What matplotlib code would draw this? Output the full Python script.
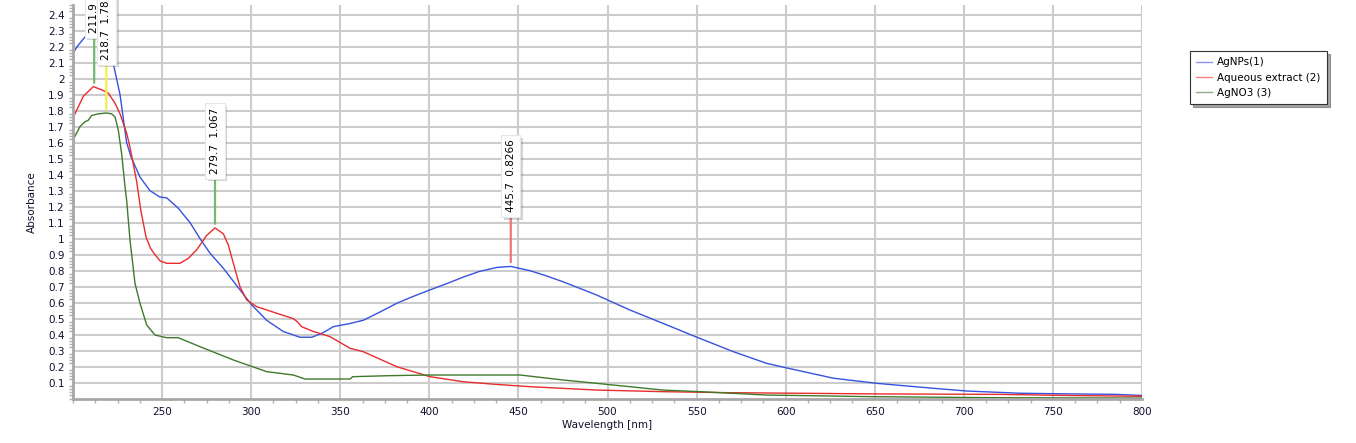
import numpy as np
import matplotlib
matplotlib.use("Agg")
import matplotlib.pyplot as plt
from matplotlib.ticker import MultipleLocator, FormatStrFormatter
import matplotlib.patheffects as pe

# AgNPs(1)
wl_agnp = [200, 203, 206.7, 210, 214, 218, 222.5, 226.4, 230.1, 232.6, 237.6, 243.2, 248.8,
           252.6, 259.1, 265.7, 271.3, 276.9, 284.4, 293.7, 300.3, 308.7, 318, 327.4, 334,
           340, 346.1, 355.5, 362.9, 372, 381.7, 390, 400.4, 410, 419.1, 428, 437.8, 445.7,
           456.5, 465, 475.2, 493.9, 512.6, 531.3, 550, 570.6, 589.3, 601.5, 626.8, 651.1,
           682.9, 701.6, 731.5, 760, 785.8, 800]
abs_agnp = [2.16, 2.21, 2.26, 2.29, 2.30, 2.26, 2.10, 1.90, 1.60, 1.51, 1.385, 1.30, 1.26,
            1.255, 1.19, 1.10, 1.00, 0.909, 0.815, 0.68, 0.586, 0.49, 0.42, 0.384, 0.384,
            0.41, 0.45, 0.47, 0.49, 0.54, 0.596, 0.635, 0.68, 0.72, 0.76, 0.795, 0.82, 0.8266,
            0.80, 0.77, 0.73, 0.648, 0.554, 0.47, 0.385, 0.294, 0.221, 0.19, 0.128, 0.096,
            0.065, 0.048, 0.034, 0.03, 0.027, 0.02]

# Aqueous extract (2)
wl_aq = [200, 201.1, 205.8, 211.4, 216.1, 219.8, 223.6, 226.4, 230.1, 232, 235.7, 238,
         241, 243.5, 246, 249, 252.6, 260, 264.7, 269.4, 275, 279.7, 284.4, 287.2, 290,
         293.7, 297.5, 303.1, 314.3, 323.7, 326, 328.3, 334.9, 344.2, 355.5, 362.9, 381.7,
         400.4, 419, 437, 456.5, 494, 531, 568.7, 608, 650, 720, 760, 800]
abs_aq = [1.76, 1.78, 1.89, 1.95, 1.93, 1.91, 1.846, 1.78, 1.66, 1.57, 1.36, 1.18,
          1.01, 0.94, 0.90, 0.86, 0.846, 0.846, 0.877, 0.93, 1.02, 1.067, 1.03, 0.96, 0.846,
          0.70, 0.617, 0.575, 0.534, 0.50, 0.48, 0.45, 0.42, 0.388, 0.315, 0.294, 0.20,
          0.1375, 0.106, 0.09, 0.075, 0.054, 0.044, 0.0375, 0.034, 0.03, 0.027, 0.02, 0.015]

# AgNO3 (3)
wl_no3 = [200, 201.1, 203.9, 206.7, 208.6, 210.5, 214.2, 218.9, 221.7, 223.6, 225.4, 227.3,
          229.2, 230.1, 232, 234.8, 237.6, 241.4, 246, 252.6, 259.1, 271.3, 290, 308.7,
          323.7, 330.2, 355.5, 357, 378, 400.4, 451, 475, 494, 531, 551.9, 589, 649, 720, 800]
abs_no3 = [1.62, 1.64, 1.70, 1.73, 1.74, 1.77, 1.78, 1.785, 1.78, 1.76, 1.68, 1.53,
           1.325, 1.24, 0.99, 0.72, 0.596, 0.46, 0.398, 0.381, 0.381, 0.325, 0.242, 0.169,
           0.148, 0.123, 0.123, 0.1375, 0.144, 0.148, 0.148, 0.117, 0.096, 0.054, 0.044,
           0.023, 0.0125, 0.006, 0.004]

# peak markers
peak_wl = [211.9, 218.7, 279.7, 445.7]
peak_abs = [1.948, 1.78, 1.067, 0.8266]
peak_txt = ["211.9  1.948", "218.7  1.78", "279.7  1.067", "445.7  0.8266"]
peak_col = ["#74b874", "#f2f04a", "#74b874", "#f07474"]

fig = plt.figure(figsize=(13.56, 4.43), dpi=100)
ax = fig.add_axes([73/1356, 1-398.7/443, (1142-73)/1356, (398.7-5)/443])

ax.plot(wl_agnp, abs_agnp, color="#3652e0", lw=1.0, label="AgNPs(1)")
ax.plot(wl_aq, abs_aq, color="#e82c2c", lw=1.0, label="Aqueous extract (2)")
ax.plot(wl_no3, abs_no3, color="#3e7a2c", lw=1.0, label="AgNO3 (3)")

for x, y, t, c in zip(peak_wl, peak_abs, peak_txt, peak_col):
    ann = ax.annotate(t, xy=(x, y), xytext=(0, 54), textcoords="offset pixels",
                      rotation=90, ha="center", va="bottom", fontsize=7.5,
                      annotation_clip=False,
                      bbox=dict(boxstyle="square,pad=0.45", fc="white", ec="#e6e6e6", lw=0.8),
                      arrowprops=dict(arrowstyle="-", color=c, lw=1.6, shrinkA=0, shrinkB=3))
    ann.get_bbox_patch().set_path_effects(
        [pe.SimplePatchShadow(offset=(2, -2), alpha=0.25), pe.Normal()])

ax.set_xlim(200, 800)
ax.set_ylim(0, 2.46)
ax.xaxis.set_minor_locator(MultipleLocator(12.5))
ax.yaxis.set_minor_locator(MultipleLocator(0.02))
xt = np.arange(250, 801, 50)
ax.set_xticks(xt)
ax.set_xticklabels([str(v) for v in xt])
yt = np.round(np.arange(0.1, 2.41, 0.1), 1)
ax.set_yticks(yt)
ax.set_yticklabels(["%g" % v for v in yt])

ax.grid(True, which="major", color="#cccccc", lw=1.5)
ax.set_axisbelow(True)
for s in ["top", "right"]:
    ax.spines[s].set_visible(False)
for s in ["left", "bottom"]:
    ax.spines[s].set_color("#a8a8a8")
    ax.spines[s].set_linewidth(2)
ax.tick_params(which="major", length=0, labelsize=7.5, labelcolor="#101030", pad=6)
ax.tick_params(which="minor", length=3, color="#b0b0b0", width=1)

ax.set_xlabel("Wavelength [nm]", fontsize=7.5, color="#101030", labelpad=2)
ax.set_ylabel("Absorbance", fontsize=7.5, color="#101030", labelpad=8)

leg = fig.legend(loc="upper left", bbox_to_anchor=(1185/1356, 1-46/443), fontsize=7.5,
                 frameon=True, fancybox=False, shadow=True, handlelength=1.5,
                 borderpad=0.6, labelspacing=0.5, handletextpad=0.5)
leg.get_frame().set_edgecolor("#333333")
leg.get_frame().set_linewidth(0.8)
for h in leg.get_lines():
    h.set_alpha(0.6)

fig.savefig("out.png", dpi=100)
